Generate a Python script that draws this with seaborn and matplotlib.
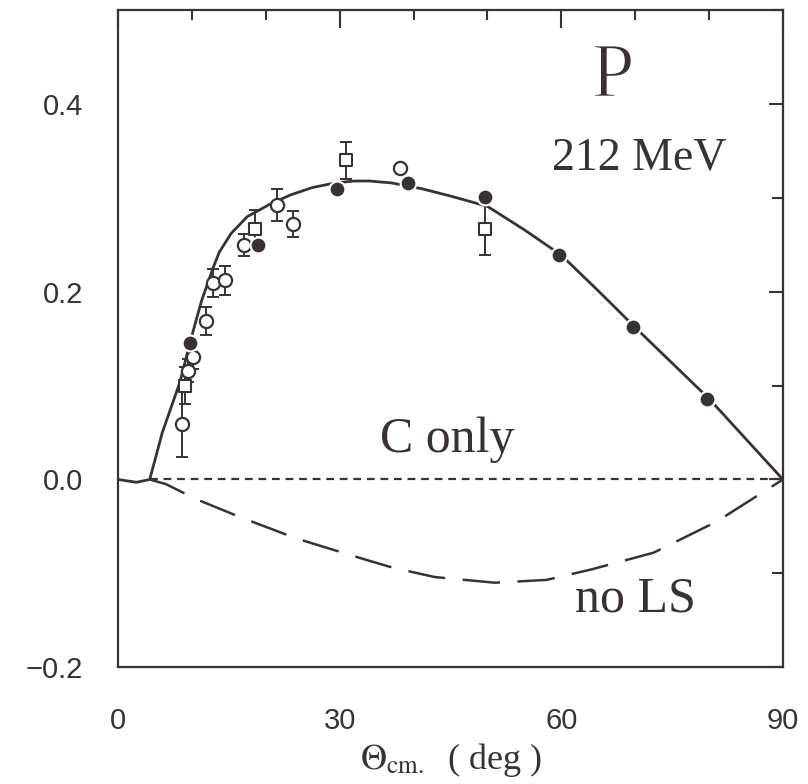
import numpy as np
import pandas as pd
import matplotlib
matplotlib.use("Agg")
import matplotlib.pyplot as plt
import matplotlib.patheffects as pe
import seaborn as sns
from matplotlib.ticker import MultipleLocator

# --- DATA ---
# full calculation (solid curve)
full_x = [0, 2.5, 4.3, 6, 8.4, 9.75, 11.3, 12.9, 13.7, 15.3, 17.5, 20.5, 23.3, 26.3,
          29.4, 32, 34, 37, 41, 45, 50, 55, 60, 65, 70, 75, 80, 85, 90]
full_y = [0, -0.003, 0.0, 0.050, 0.104, 0.146, 0.19, 0.226, 0.242, 0.262, 0.280, 0.293,
          0.303, 0.311, 0.316, 0.318, 0.318, 0.316, 0.310, 0.302, 0.291, 0.266, 0.239,
          0.201, 0.162, 0.124, 0.086, 0.043, 0.0]

# Coulomb only (short dashes)
conly_x = [4.3, 90]
conly_y = [0.0, 0.0]

# no spin-orbit (long dashes)
nols_x = [4.3, 6.5, 10.6, 16.5, 24.2, 32.9, 37.2, 42.9, 51, 58, 64, 72.5, 81, 87, 90]
nols_y = [0.0, -0.005, -0.021, -0.040, -0.063, -0.084, -0.094, -0.104, -0.110,
          -0.107, -0.096, -0.078, -0.045, -0.015, 0.0]

# open circles with errors
oc_x = [8.7, 9.5, 10.2, 11.9, 12.9, 14.5, 17.0, 21.5, 23.7, 38.2]
oc_y = [0.059, 0.116, 0.130, 0.169, 0.209, 0.212, 0.250, 0.292, 0.272, 0.332]
oc_err = [0.035, 0.012, 0.012, 0.015, 0.015, 0.015, 0.012, 0.017, 0.014, 0.0]

# open squares with errors
sq_x = [9.1, 18.5, 30.9, 49.7]
sq_y = [0.100, 0.267, 0.340, 0.267]
sq_err = [0.02, 0.02, 0.02, 0.028]

# filled circles
fc_x = [9.7, 18.9, 29.6, 39.3, 49.7, 59.7, 69.7, 79.7]
fc_y = [0.145, 0.250, 0.310, 0.316, 0.301, 0.239, 0.162, 0.086]

INK = "#3a3232"

# --- STYLE ---
sns.set_style("white")
plt.rcParams['font.family'] = ['Liberation Sans', 'DejaVu Sans']
plt.rcParams['mathtext.fontset'] = 'stix'

fig = plt.figure(figsize=(8.08, 7.84), dpi=100)
ax = fig.add_axes([0.146, 0.149, 0.823, 0.838])

# curves
sns.lineplot(x=full_x, y=full_y, ax=ax, color=INK, lw=2.0, sort=False, zorder=3)
sns.lineplot(x=conly_x, y=conly_y, ax=ax, color=INK, lw=1.6, sort=False,
             linestyle=(0, (3.5, 2.6)), zorder=2)
sns.lineplot(x=nols_x, y=nols_y, ax=ax, color=INK, lw=1.8, sort=False,
             linestyle=(0, (15, 7)), zorder=2)

# error bars
ax.errorbar(oc_x, oc_y, yerr=oc_err, fmt='none', ecolor=INK, elinewidth=1.4,
            capsize=4, capthick=1.4, zorder=4)
ax.errorbar(sq_x, sq_y, yerr=sq_err, fmt='none', ecolor=INK, elinewidth=1.4,
            capsize=4, capthick=1.4, zorder=4)

# points
sns.scatterplot(x=oc_x, y=oc_y, ax=ax, marker='o', s=90, facecolor='white',
                edgecolor=INK, linewidth=1.6, zorder=5)
sns.scatterplot(x=sq_x, y=sq_y, ax=ax, marker='s', s=80, facecolor='white',
                edgecolor=INK, linewidth=1.5, zorder=5)
sns.scatterplot(x=fc_x, y=fc_y, ax=ax, marker='o', s=130, color=INK,
                edgecolor='white', linewidth=1.5, zorder=6)

# axes
ax.set_xlim(0, 90)
ax.set_ylim(-0.2, 0.5)
ax.set_xticks([0, 30, 60, 90])
ax.set_yticks([-0.2, 0.0, 0.2, 0.4])
ax.set_yticklabels(['\u22120.2', '0.0', '0.2', '0.4'])
ax.xaxis.set_minor_locator(MultipleLocator(10))
ax.yaxis.set_minor_locator(MultipleLocator(0.1))
ax.tick_params(axis='both', which='both', direction='in', top=True, right=True,
               color=INK, labelcolor=INK, labelsize=21, width=1.5)
ax.tick_params(axis='x', which='major', length=13, pad=29)
ax.tick_params(axis='x', which='minor', length=7)
ax.tick_params(axis='y', which='major', length=10, pad=25)
ax.tick_params(axis='y', which='minor', length=8)
for sp in ax.spines.values():
    sp.set_color(INK)
    sp.set_linewidth(1.6)

ax.set_xlabel(r'$\Theta_{\mathrm{cm.}}$  ( deg )', fontsize=26, color=INK,
              family='Liberation Serif', labelpad=4)
ax.set_ylabel('')

# annotations
thin = [pe.Normal(), pe.Stroke(linewidth=1.2, foreground='white')]
ax.text(67, 0.428, 'P', fontsize=56, color=INK, family='Liberation Serif',
        ha='center', va='center', path_effects=thin)
ax.text(70.6, 0.342, '212 MeV', fontsize=33, color=INK, family='Liberation Serif',
        ha='center', va='center')
ax.text(44.5, 0.042, 'C only', fontsize=36, color=INK, family='Liberation Serif',
        ha='center', va='center')
ax.text(70, -0.128, 'no LS', fontsize=36, color=INK, family='Liberation Serif',
        ha='center', va='center')

fig.savefig('out.png', dpi=100)
